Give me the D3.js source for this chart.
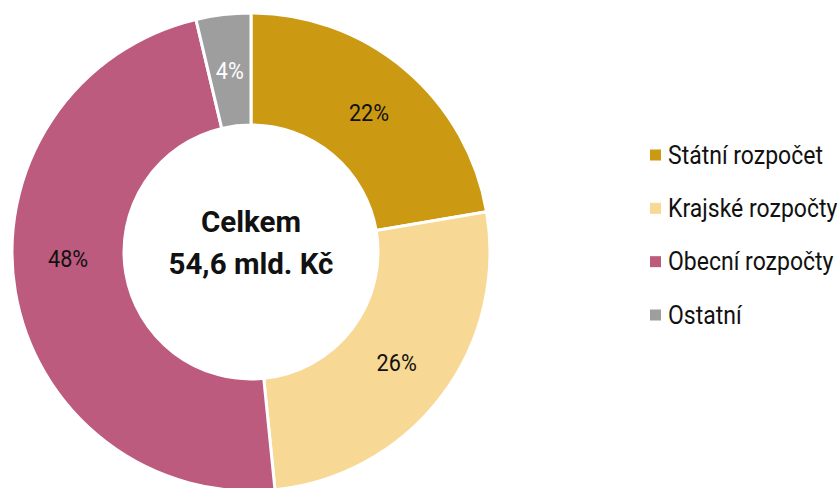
<!DOCTYPE html>
<html>
<head>
<meta charset="utf-8">
<script src="https://cdn.jsdelivr.net/npm/d3@7"></script>
<style>
  body { margin: 0; background: #fff; }
  text { font-family: Roboto, "Noto Sans", sans-serif; }
</style>
</head>
<body>
<svg width="840" height="488"></svg>
<script>
let categories = ["Státní rozpočet", "Krajské rozpočty", "Obecní rozpočty", "Ostatní"];
let values = [22.3, 26.1, 47.9, 3.7];
let labels = ["22%", "26%", "48%", "4%"];
let colors = ["#CC9913", "#F7D995", "#BC5B7E", "#9E9E9E"];
let labelColors = ["#111", "#111", "#111", "#fff"];

const svg = d3.select("svg");
const cx = 251, cy = 252;
const outerR = 239, innerR = 127;

let data = categories.map((c, i) => ({name: c, value: values[i], label: labels[i], color: colors[i], lc: labelColors[i]}));

const pie = d3.pie().value(d => d.value).sort(null);
const arc = d3.arc().innerRadius(innerR).outerRadius(outerR);
const labelR = 183;

const g = svg.append("g").attr("transform", `translate(${cx},${cy})`);

g.selectAll("path")
  .data(pie(data))
  .join("path")
  .attr("d", arc)
  .attr("fill", d => d.data.color)
  .attr("stroke", "#fff")
  .attr("stroke-width", 3);

// label angle: centroid of slice, the big slice label sits nearer the horizontal
function labelPos(d) {
  let a = (d.startAngle + d.endAngle) / 2;
  if (d.index == 2) a += 0.13;
  return [labelR * Math.sin(a), -labelR * Math.cos(a)];
}

g.selectAll("text.lbl")
  .data(pie(data))
  .join("text")
  .attr("class", "lbl")
  .attr("transform", d => { let p = labelPos(d); return `translate(${p[0]},${p[1]}) scale(0.9,1)`; })
  .attr("text-anchor", "middle")
  .attr("dy", "0.35em")
  .attr("font-size", 24)
  .attr("fill", d => d.data.lc)
  .text(d => d.data.label);

// center text
g.append("text")
  .attr("text-anchor", "middle")
  .attr("y", -31).attr("dy", "0.36em")
  .attr("font-size", 29.5).attr("font-weight", 700).attr("fill", "#111")
  .text("Celkem");
g.append("text")
  .attr("text-anchor", "middle")
  .attr("y", 11).attr("dy", "0.36em")
  .attr("font-size", 29.5).attr("font-weight", 700).attr("fill", "#111")
  .text("54,6 mld. Kč");

// legend
const y = d3.scalePoint().domain(categories).range([155, 315]);
const legend = svg.append("g").selectAll("g")
  .data(data)
  .join("g")
  .attr("transform", d => `translate(650,${y(d.name)})`);

legend.append("rect")
  .attr("x", 0).attr("y", -5.5)
  .attr("width", 11).attr("height", 11)
  .attr("fill", d => d.color);

legend.append("text")
  .attr("transform", "translate(18,0) scale(0.92,1)")
  .attr("dy", "0.35em")
  .attr("font-size", 25)
  .attr("fill", "#111")
  .text(d => d.name);
</script>
</body>
</html>
